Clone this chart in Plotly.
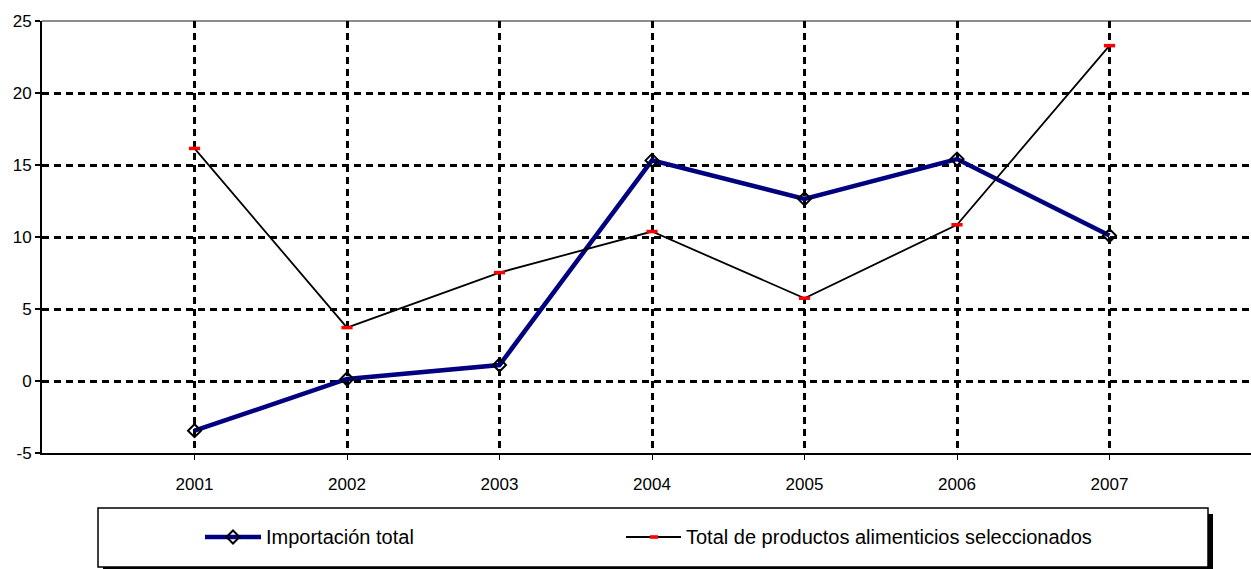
import plotly.graph_objects as go

# Series data
years = [2001, 2002, 2003, 2004, 2005, 2006, 2007]
importacion_total = [-3.45, 0.14, 1.11, 15.32, 12.65, 15.41, 10.1]
productos_alimenticios = [16.15, 3.71, 7.53, 10.38, 5.75, 10.85, 23.29]
y_ticks = [-5, 0, 5, 10, 15, 20, 25]
y_tick_labels = ["-5", "0", "5", "10", "15", "20", "25"]
series_names = ["Importación total", "Total de productos alimenticios seleccionados"]

W, H = 1251, 569
ML, MR, MT, MB = 42, 0, 21, 116
PW, PH = W - ML - MR, H - MT - MB
FONT = "Liberation Sans, Arial, sans-serif"


def px_x(px):
    return (px - ML) / PW


def px_y(py):
    return (H - MB - py) / PH


fig = go.Figure()

fig.add_trace(go.Scatter(
    x=years, y=importacion_total, mode="lines+markers", name=series_names[0],
    line=dict(color="#000080", width=4.5),
    marker=dict(symbol="diamond-open", size=10, color="black", line=dict(width=2, color="black")),
    showlegend=False,
))
fig.add_trace(go.Scatter(
    x=years, y=productos_alimenticios, mode="lines+markers", name=series_names[1],
    line=dict(color="black", width=1.8),
    marker=dict(symbol="line-ew", size=8, color="#ff0000", line=dict(width=3.5, color="#ff0000")),
    showlegend=False,
))

shapes = []
# grey plot-area border along the top edge, under the gridline
shapes.append(dict(type="line", xref="paper", yref="paper", x0=0, x1=1, y0=1, y1=1,
                   line=dict(color="#8c8c8c", width=2), layer="below"))

# legend box with drop shadow
lx0, lx1, ly0, ly1 = 98, 1208, 508, 567
shapes.append(dict(type="rect", xref="paper", yref="paper",
                   x0=px_x(lx0 + 5), x1=px_x(lx1 + 5), y0=px_y(ly1 + 5), y1=px_y(ly0 + 6),
                   fillcolor="black", line=dict(width=0)))
shapes.append(dict(type="rect", xref="paper", yref="paper",
                   x0=px_x(lx0), x1=px_x(lx1), y0=px_y(ly1), y1=px_y(ly0),
                   fillcolor="white", line=dict(color="black", width=1.5)))

ly = 537
# legend entry 1: navy line with diamond
shapes.append(dict(type="line", xref="paper", yref="paper",
                   x0=px_x(205), x1=px_x(261), y0=px_y(ly), y1=px_y(ly),
                   line=dict(color="#000080", width=4.5)))
cx, r = 233, 6.5
diamond = "M {a},{b} L {c},{d} L {e},{f} L {g},{h} Z".format(
    a=px_x(cx - r), b=px_y(ly), c=px_x(cx), d=px_y(ly - r),
    e=px_x(cx + r), f=px_y(ly), g=px_x(cx), h=px_y(ly + r))
shapes.append(dict(type="path", xref="paper", yref="paper", path=diamond,
                   fillcolor="rgba(0,0,0,0)", line=dict(color="black", width=2)))
# legend entry 2: black line with red dash
shapes.append(dict(type="line", xref="paper", yref="paper",
                   x0=px_x(626), x1=px_x(681), y0=px_y(ly), y1=px_y(ly),
                   line=dict(color="black", width=1.8)))
shapes.append(dict(type="rect", xref="paper", yref="paper",
                   x0=px_x(650), x1=px_x(658), y0=px_y(ly + 1.8), y1=px_y(ly - 1.8),
                   fillcolor="#ff0000", line=dict(width=0)))

annotations = [
    dict(xref="paper", yref="paper", x=px_x(264), y=px_y(ly), text=series_names[0],
         showarrow=False, xanchor="left", yanchor="middle",
         font=dict(family=FONT, size=20, color="black")),
    dict(xref="paper", yref="paper", x=px_x(684), y=px_y(ly), text=series_names[1],
         showarrow=False, xanchor="left", yanchor="middle",
         font=dict(family=FONT, size=20, color="black")),
]

grid_style = dict(showgrid=True, gridcolor="black", gridwidth=2.5, griddash="7px,5px")

fig.update_layout(
    width=W, height=H,
    margin=dict(l=ML, r=MR, t=MT, b=MB, pad=0),
    plot_bgcolor="white", paper_bgcolor="white",
    font=dict(family=FONT, size=17, color="black"),
    shapes=shapes, annotations=annotations,
    xaxis=dict(range=[2000, 2000 + PW / 152.5], tickmode="array", tickvals=years,
               ticktext=[str(y) for y in years],
               showline=True, linecolor="black", linewidth=2,
               ticks="outside", ticklen=5, tickwidth=1, tickcolor="black",
               ticklabelstandoff=10, zeroline=False, **grid_style),
    yaxis=dict(range=[-5, 25], tickmode="array", tickvals=y_ticks, ticktext=y_tick_labels,
               showline=True, linecolor="black", linewidth=2,
               ticks="outside", ticklen=5, tickwidth=2, tickcolor="black",
               zeroline=False, **grid_style),
)

fig.write_html("out.html")
